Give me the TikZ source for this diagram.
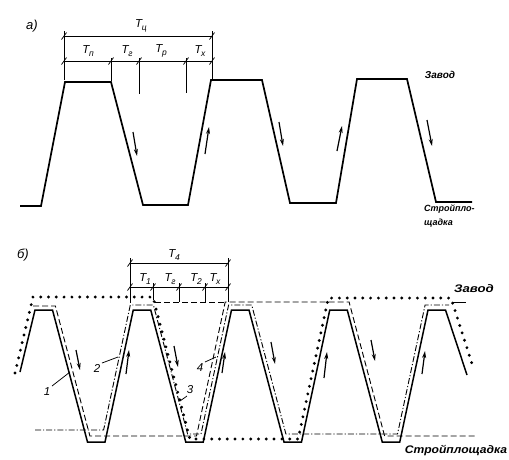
\documentclass[tikz,border=0pt]{standalone}
\usepackage{fontspec}
\setmainfont{Liberation Sans}
\usetikzlibrary{arrows.meta}
\newcommand\TT[1]{\textit{T}\kern-0.3pt\raisebox{-0.45ex}{\fontsize{8.5}{9}\selectfont\itshape #1}}
\begin{document}
\begin{tikzpicture}[x=1pt,y=-1pt,
  mainline/.style={line width=1.7pt, line join=miter},
  solline/.style={line width=1.5pt, line join=miter},
  thinline/.style={line width=0.75pt},
  dshline/.style={line width=0.9pt, dash pattern=on 6pt off 3pt},
  dshdotline/.style={line width=0.9pt, dash pattern=on 6pt off 2pt on 1.2pt off 2pt},
  dotline/.style={line width=3.2pt, line cap=round, dash pattern=on 0pt off 7.8pt},
  arr/.style={line width=1.2pt, -{Stealth[length=7pt,width=4pt]}},
  lbl/.style={font=\fontsize{11.5}{13}\selectfont\itshape, inner sep=0pt},
  plc/.style={inner sep=0pt},
  tk/.style={line width=0.75pt}]
\useasboundingbox (0,0) rectangle (509,459);
\fill[white] (0,0) rectangle (509,459);

% ---------------- a) ----------------
\node[plc, font=\fontsize{13}{15}\selectfont\itshape] (la) at (32,26) {а)};
\draw[thinline] (64,31) -- (64,80);
\draw[thinline] (212,31) -- (212,79);
\draw[thinline] (111,58) -- (111,81);
\draw[thinline] (139,58) -- (139,94);
\draw[thinline] (186,58) -- (186,93);
\draw[thinline] (64,36) -- (212,36);
\draw[thinline] (64,61) -- (212,61);
\foreach \x in {64,212} \draw[tk] (\x-2.5,39.5) -- (\x+2.5,32.5);
\foreach \x in {64,111,139,186,212} \draw[tk] (\x-2.5,64.5) -- (\x+2.5,57.5);
\node[lbl] (tca) at (141,26) {\TT{ц}};
\node[lbl] (tpa) at (88,51) {\TT{п}};
\node[lbl] (tga) at (127,51) {\TT{г}};
\node[lbl] (tra) at (161,51) {\TT{р}};
\node[lbl] (txa) at (200,51) {\TT{х}};

\draw[mainline] (20,206) -- (41,206) -- (65,82) -- (111,82) -- (143,205) -- (188,205)
  -- (211,80) -- (262,80) -- (290,203) -- (336,203) -- (357,79) -- (407,79)
  -- (436,202) -- (472,202);

\draw[arr] (133,132) -- (137,156);
\draw[arr] (205,154) -- (209,127);
\draw[arr] (279,122) -- (283,146);
\draw[arr] (337,151) -- (342,126);
\draw[arr] (427,120) -- (432,146);

\node[plc, font=\fontsize{10}{12}\selectfont\bfseries\itshape] (za) at (440,75) {Завод};
\node[plc, font=\fontsize{9}{10}\selectfont\bfseries\itshape, anchor=west] (sa1) at (424,209) {Строй­пло-};
\node[plc, font=\fontsize{9}{10}\selectfont\bfseries\itshape, anchor=west] (sa2) at (424,223) {щадка};

% ---------------- b) ----------------
\node[plc, font=\fontsize{13}{15}\selectfont\itshape] (lb) at (23,255) {б)};
\draw[thinline] (130,258) -- (130,303);
\draw[thinline] (228,258) -- (228,302);
\draw[thinline] (153,283) -- (153,300);
\draw[thinline] (179,283) -- (179,302);
\draw[thinline] (205,283) -- (205,302);
\draw[thinline] (130,263) -- (228,263);
\draw[thinline] (130,287) -- (228,287);
\foreach \x in {130,228} \draw[tk] (\x-2.5,266.5) -- (\x+2.5,259.5);
\foreach \x in {130,153,179,205,228} \draw[tk] (\x-2.5,290.5) -- (\x+2.5,283.5);
\node[lbl] (t4b) at (174,255) {\TT{4}};
\node[lbl] (t1b) at (145,279) {\TT{1}};
\node[lbl] (tgb) at (170,279) {\TT{г}};
\node[lbl] (t2b) at (196,279) {\TT{2}};
\node[lbl] (txb) at (215,279) {\TT{х}};

% line 1 (solid)
\draw[solline] (20,372) -- (35,310) -- (52.5,310) -- (87.5,442) -- (105,442)
  -- (133.25,310) -- (150.75,310) -- (185.75,442) -- (203.25,442)
  -- (231.5,310) -- (249,310) -- (284,442) -- (301.5,442)
  -- (329.75,310) -- (347.25,310) -- (382.25,442) -- (399.75,442)
  -- (428,310) -- (445.5,310) -- (467,375);

% line 2 (dash-dot)
\draw[dshdotline] (35,430) -- (103.6,430) -- (130.3,305) -- (153.4,305) -- (187.6,434)
  -- (201,434) -- (228.6,305) -- (251.7,305) -- (285.9,434) -- (397.5,434)
  -- (425.1,305) -- (449,305);

% line 4 (dashed)
\draw[dshline] (33,306) -- (55.4,306) -- (89.9,436) -- (196.5,436) -- (225.2,302)
  -- (349.1,302) -- (384.6,436) -- (477,436);
\draw[dshline] (155,302) -- (225.2,302);

% line 3 (dotted)
\draw[dotline] (15,373) -- (33,297) -- (153,297) -- (189.9,439) -- (298.2,439)
  -- (328.3,298) -- (451,298) -- (474,370);

\draw[line width=0.9pt] (452,302) -- (466,302);

% arrows b)
\draw[arr] (76,350) -- (80,370);
\draw[arr] (126,374) -- (129,350);
\draw[arr] (174,346) -- (178,367);
\draw[arr] (222,373) -- (225,352);
\draw[arr] (271,342) -- (275,364);
\draw[arr] (324,378) -- (327,352);
\draw[arr] (371,340) -- (375,361);
\draw[arr] (422,374) -- (425,351);

% labels
\node[lbl] (n1) at (47,392) {1};
\node[lbl] (n2) at (97,368) {2};
\node[lbl] (n3) at (190,390) {3};
\node[lbl] (n4) at (200,368) {4};
\coordinate (e1) at (70,372);
\coordinate (e2) at (118,357);
\coordinate (e3) at (180,401);
\coordinate (e4) at (216,357);
\draw[thinline] (52,386) -- (e1);
\draw[thinline] (102,363) -- (e2);
\draw[thinline] (187,396) -- (e3);
\draw[thinline] (205,362) -- (e4);

\node[plc, font=\fontsize{11}{13}\selectfont\bfseries\itshape] (zb) at (474,289) {\scalebox{1.2}[1]{Завод}};
\node[plc, font=\fontsize{11}{13}\selectfont\bfseries\itshape] (sb) at (456,451) {\scalebox{1.1}[1]{Стройплощадка}};
\end{tikzpicture}
\end{document}
